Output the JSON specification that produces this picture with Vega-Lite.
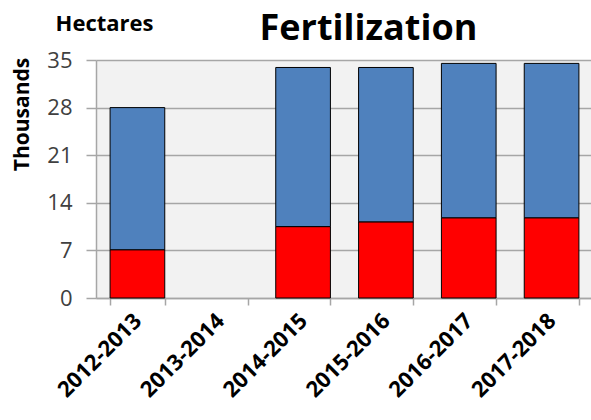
{
  "$schema": "https://vega.github.io/schema/vega-lite/v6.json",
  "autosize": "none",
  "width": 497,
  "height": 238,
  "padding": {"left": 96, "top": 60, "right": 0, "bottom": 122},
  "background": "white",
  "title": {
    "text": "Fertilization",
    "font": "Open Sans",
    "fontSize": 36,
    "fontWeight": "bold",
    "color": "black",
    "anchor": "middle",
    "frame": "group",
    "dx": 24,
    "offset": 0,
    "dy": 36
  },
  "config": {
    "view": {"fill": "#f2f2f2", "stroke": null},
    "font": "Open Sans"
  },
  "data": {
    "values": [
      {"season": "2012-2013", "part": "Lower", "value": 7.1},
      {"season": "2012-2013", "part": "Upper", "value": 20.9},
      {"season": "2014-2015", "part": "Lower", "value": 10.5},
      {"season": "2014-2015", "part": "Upper", "value": 23.4},
      {"season": "2015-2016", "part": "Lower", "value": 11.2},
      {"season": "2015-2016", "part": "Upper", "value": 22.7},
      {"season": "2016-2017", "part": "Lower", "value": 11.8},
      {"season": "2016-2017", "part": "Upper", "value": 22.7},
      {"season": "2017-2018", "part": "Lower", "value": 11.8},
      {"season": "2017-2018", "part": "Upper", "value": 22.7}
    ]
  },
  "layer": [
    {
      "mark": {"type": "bar", "stroke": "black", "strokeWidth": 1},
      "encoding": {
        "x": {
          "field": "season",
          "type": "nominal",
          "scale": {
            "domain": ["2012-2013", "2013-2014", "2014-2015", "2015-2016", "2016-2017", "2017-2018"],
            "paddingInner": 0.34,
            "paddingOuter": 0.17
          },
          "axis": {
            "orient": "bottom",
            "title": null,
            "labelAngle": -45,
            "labelAlign": "right",
            "labelBaseline": "middle",
            "labelFont": "Open Sans",
            "labelFontSize": 22,
            "labelFontWeight": "bold",
            "labelColor": "black",
            "labelPadding": 12,
            "tickBand": "extent",
            "tickSize": 7,
            "tickColor": "#a6a6a6",
            "tickWidth": 1.5,
            "domainColor": "#a6a6a6",
            "domainWidth": 1.5,
            "grid": false
          }
        },
        "y": {
          "field": "value",
          "type": "quantitative",
          "stack": "zero",
          "scale": {"domain": [0, 35], "nice": false},
          "axis": {
            "values": [0, 7, 14, 21, 28, 35],
            "title": "Thousands",
            "titleFont": "Open Sans",
            "titleFontSize": 21,
            "titleFontWeight": "bold",
            "titleColor": "black",
            "titleAngle": -90,
            "titleX": -74,
            "titleY": 54,
            "titleAlign": "center",
            "titleBaseline": "middle",
            "labelFont": "Open Sans",
            "labelFontSize": 22,
            "labelColor": "#404040",
            "labelPadding": 14,
            "tickSize": 10,
            "tickColor": "#a6a6a6",
            "tickWidth": 1.5,
            "domainColor": "#a6a6a6",
            "domainWidth": 1.5,
            "grid": true,
            "gridColor": "#a6a6a6",
            "gridWidth": 1.5
          }
        },
        "color": {
          "field": "part",
          "type": "nominal",
          "scale": {"domain": ["Lower", "Upper"], "range": ["#ff0000", "#4f81bd"]},
          "legend": null
        },
        "order": {"field": "part", "sort": "ascending"}
      }
    },
    {
      "mark": {"type": "tick", "opacity": 0},
      "encoding": {
        "x": {
          "field": "season",
          "type": "nominal",
          "axis": {
            "orient": "top",
            "labels": false,
            "ticks": false,
            "domain": false,
            "grid": false,
            "title": "Hectares",
            "titleFont": "Open Sans",
            "titleFontSize": 22,
            "titleFontWeight": "bold",
            "titleColor": "black",
            "titleAngle": 0,
            "titleX": 8,
            "titleY": -30,
            "titleAlign": "center",
            "titleBaseline": "alphabetic"
          }
        }
      }
    }
  ],
  "resolve": {"axis": {"x": "independent"}}
}
